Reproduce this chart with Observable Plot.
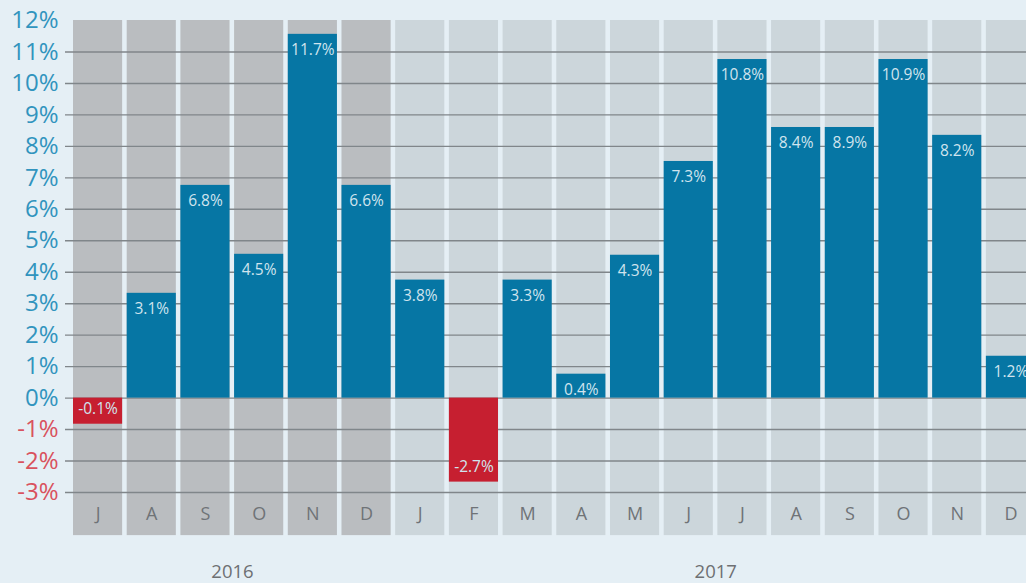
<!DOCTYPE html>
<html>
<head>
<meta charset="utf-8">
<script src="https://cdn.jsdelivr.net/npm/d3@7"></script>
<script src="https://cdn.jsdelivr.net/npm/@observablehq/plot@0.6"></script>
<style>
  html, body { margin: 0; padding: 0; background: #e5eff5; overflow: hidden; }
  #chart svg { display: block; }
</style>
</head>
<body>
<div id="chart"></div>
<script>
// ---- data ----
const months = ["J","A","S","O","N","D","J","F","M","A","M","J","J","A","S","O","N","D"];
const years  = [2016,2016,2016,2016,2016,2016,2017,2017,2017,2017,2017,2017,2017,2017,2017,2017,2017,2017];
const values = [-0.83, 3.33, 6.76, 4.57, 11.56, 6.76, 3.75, -2.67, 3.75, 0.76, 4.54, 7.52, 10.76, 8.6, 8.6, 10.76, 8.35, 1.33];
const labels = ["-0.1%","3.1%","6.8%","4.5%","11.7%","6.6%","3.8%","-2.7%","3.3%","0.4%","4.3%","7.3%","10.8%","8.4%","8.9%","10.9%","8.2%","1.2%"];
const yTicks = [-3,-2,-1,0,1,2,3,4,5,6,7,8,9,10,11,12];
const gridTicks = [-3,-2,-1,0,1,2,3,4,5,6,7,8,9,10,11];
const yearLabels = ["2016","2017"];
const yearMid = [2, 11];   // column left of each year's centre

const rows = months.map((m, i) => ({i, month: m, year: years[i], value: values[i], label: labels[i]}));
const idx = rows.map(d => d.i);

const C = {
  col2016: "#babdc0",
  col2017: "#ccd6db",
  bar: "#0676a4",
  neg: "#c61f30",
  grid: "#80868a",
  axisPos: "#3194be",
  axisNeg: "#d9525e",
  month: "#6f7377",
  barText: "#d0e4ee",
  year: "#6e7073"
};

const font = "'Open Sans', 'Noto Sans', sans-serif";

const chart = Plot.plot({
  width: 1026,
  height: 583,
  marginLeft: 65,
  marginRight: 0,
  marginTop: 0,
  marginBottom: 0,
  style: {background: "transparent", fontFamily: font},
  x: {type: "band", domain: idx, range: [73, 1035], paddingInner: 0.085, paddingOuter: 0, round: false, axis: null},
  y: {domain: [-3, 12], range: [492, 20], axis: null},
  color: {type: "identity"},
  marks: [
    // background columns
    Plot.barY(rows, {x: "i", y1: 12, y2: -4.37, fill: d => d.year === 2016 ? C.col2016 : C.col2017}),
    // gridlines
    Plot.ruleY(gridTicks, {stroke: C.grid, strokeWidth: 1.4}),
    // bars
    Plot.barY(rows, {x: "i", y1: 0, y2: "value", fill: d => d.value < 0 ? C.neg : C.bar}),
    // bar labels
    Plot.text(rows.filter(d => d.value >= 0), {x: "i", y: "value", text: "label", dy: 16, fill: C.barText, fontSize: 15.5, lineAnchor: "middle"}),
    Plot.text(rows.filter(d => d.value < 0), {x: "i", y: "value", text: "label", dy: -15, fill: C.barText, fontSize: 15.5, lineAnchor: "middle"}),
    // month labels
    Plot.text(rows, {x: "i", y: -3.68, text: "month", fill: C.month, fontSize: 18}),
    // y tick labels
    Plot.text(yTicks.filter(d => d >= 0), {y: d => d, text: d => d + "%", frameAnchor: "left", dx: -7, textAnchor: "end", fill: C.axisPos, fontSize: 24}),
    Plot.text(yTicks.filter(d => d < 0), {y: d => d, text: d => d + "%", frameAnchor: "left", dx: -7, textAnchor: "end", fill: C.axisNeg, fontSize: 24}),
    // year labels
    Plot.text(yearLabels, {x: (d, k) => yearMid[k], y: -5.52, text: d => d, dx: 27, fill: C.year, fontSize: 18.5})
  ]
});
document.getElementById("chart").appendChild(chart);
</script>
</body>
</html>
